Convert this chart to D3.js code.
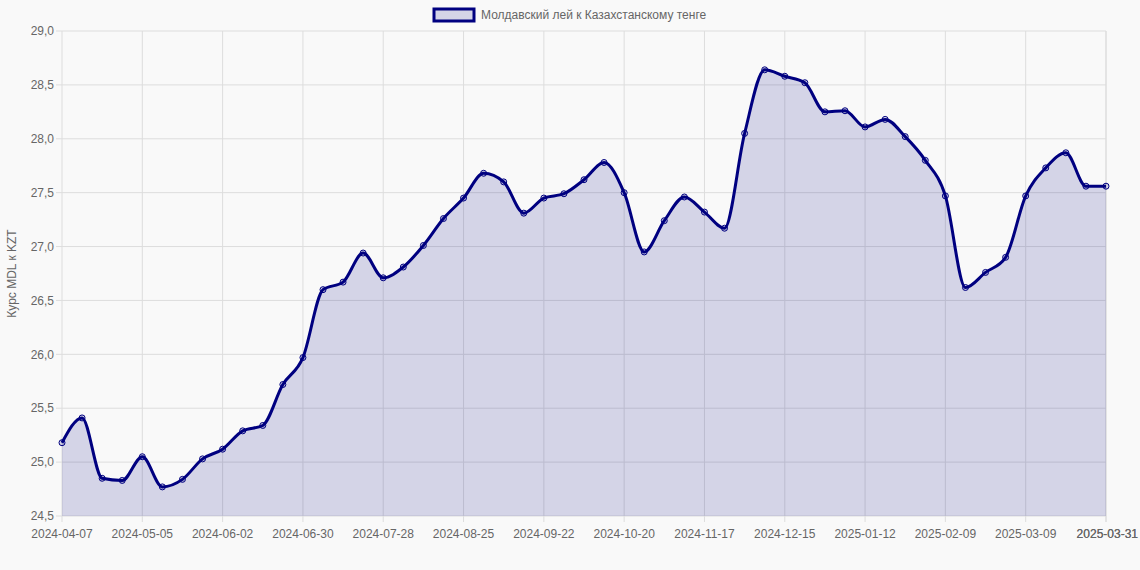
<!DOCTYPE html>
<html><head><meta charset="utf-8">
<script src="https://cdn.jsdelivr.net/npm/d3@7"></script>
<style>body{margin:0;background:#f9f9f9;font-family:"Liberation Sans",Arial,sans-serif}</style>
</head><body><svg id="chart" width="1140" height="570"></svg>
<script>
const dates = ["2024-04-07","2024-04-14","2024-04-21","2024-04-28","2024-05-05","2024-05-12","2024-05-19","2024-05-26",
  "2024-06-02","2024-06-09","2024-06-16","2024-06-23","2024-06-30","2024-07-07","2024-07-14","2024-07-21",
  "2024-07-28","2024-08-04","2024-08-11","2024-08-18","2024-08-25","2024-09-01","2024-09-08","2024-09-15",
  "2024-09-22","2024-09-29","2024-10-06","2024-10-13","2024-10-20","2024-10-27","2024-11-03","2024-11-10",
  "2024-11-17","2024-11-24","2024-12-01","2024-12-08","2024-12-15","2024-12-22","2024-12-29","2025-01-05",
  "2025-01-12","2025-01-19","2025-01-26","2025-02-02","2025-02-09","2025-02-16","2025-02-23","2025-03-02",
  "2025-03-09","2025-03-16","2025-03-23","2025-03-30","2025-03-31"];
const rates = [25.18,25.41,24.85,24.83,25.05,24.77,24.84,25.03,25.12,25.29,25.34,25.72,25.97,26.60,26.67,26.94,
  26.71,26.81,27.01,27.26,27.45,27.68,27.60,27.31,27.45,27.49,27.62,27.78,27.50,26.95,27.24,27.46,
  27.32,27.17,28.05,28.64,28.58,28.52,28.25,28.26,28.11,28.18,28.02,27.80,27.47,26.62,26.76,26.90,
  27.47,27.73,27.87,27.56,27.56];
const yTicks = [24.5,25.0,25.5,26.0,26.5,27.0,27.5,28.0,28.5,29.0];
const seriesName = "Молдавский лей к Казахстанскому тенге";

const svg = d3.select("#chart");
const m = {left: 62, right: 34, top: 31, bottom: 54};
const W = 1140, H = 570;
const x = d3.scalePoint().domain(d3.range(dates.length)).range([m.left, W - m.right]);
const y = d3.scaleLinear().domain([24.5, 29]).range([H - m.bottom, m.top]);
const fmt = d => d.toFixed(1).replace(".", ",");
const xTickIdx = d3.range(0, dates.length, 4).concat([dates.length - 1]);

// grid
const g = svg.append("g");
g.selectAll("line.h").data(yTicks).join("line")
  .attr("x1", m.left - 6).attr("x2", W - m.right).attr("y1", d => y(d)).attr("y2", d => y(d))
  .attr("stroke", "#ddd");
g.selectAll("line.v").data(xTickIdx).join("line").attr("class", "v")
  .attr("x1", d => x(d)).attr("x2", d => x(d)).attr("y1", m.top).attr("y2", H - m.bottom + 6)
  .attr("stroke", "#ddd");

// y labels
svg.append("g").selectAll("text").data(yTicks).join("text")
  .attr("x", m.left - 8).attr("y", d => y(d)).attr("dy", "0.35em").attr("text-anchor", "end")
  .attr("font-size", 12).attr("fill", "#666").text(fmt);
// x labels
svg.append("g").selectAll("text").data(xTickIdx).join("text")
  .attr("x", d => d === dates.length - 1 ? W - 2 : x(d)).attr("y", H - m.bottom + 22)
  .attr("text-anchor", d => d === dates.length - 1 ? "end" : "middle")
  .attr("font-size", 12).attr("fill", "#666").text(d => dates[d]);

svg.append("text").attr("transform", `translate(16,${(m.top + H - m.bottom) / 2}) rotate(-90)`)
  .attr("text-anchor", "middle").attr("font-size", 12).attr("fill", "#666").text("Курс MDL к KZT");

// area + line
const curve = d3.curveMonotoneX;
svg.append("path").datum(rates)
  .attr("d", d3.area().x((d, i) => x(i)).y0(y(24.5)).y1(d => y(d)).curve(curve))
  .attr("fill", "rgba(0,0,128,0.15)");
svg.append("path").datum(rates)
  .attr("d", d3.line().x((d, i) => x(i)).y(d => y(d)).curve(curve))
  .attr("fill", "none").attr("stroke", "#000080").attr("stroke-width", 3);
svg.append("g").selectAll("circle").data(rates).join("circle")
  .attr("cx", (d, i) => x(i)).attr("cy", d => y(d)).attr("r", 3)
  .attr("fill", "rgba(0,0,128,0.15)").attr("stroke", "#000080").attr("stroke-width", 1);

// legend
svg.append("rect").attr("x", 434).attr("y", 9).attr("width", 40).attr("height", 12)
  .attr("fill", "rgba(0,0,128,0.15)").attr("stroke", "#000080").attr("stroke-width", 3);
svg.append("text").attr("x", 481).attr("y", 15).attr("dy", "0.35em")
  .attr("font-size", 12).attr("fill", "#666").text(seriesName);
</script></body></html>
